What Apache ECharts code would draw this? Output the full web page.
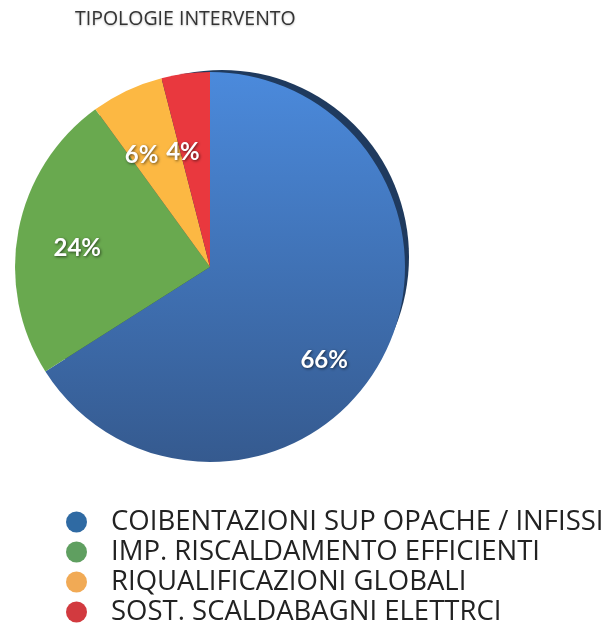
<!DOCTYPE html>
<html>
<head>
<meta charset="utf-8">
<script src="https://cdn.jsdelivr.net/npm/echarts@6/dist/echarts.min.js"></script>
<style>
  html, body { margin: 0; padding: 0; background: #fff; }
  #chart { width: 605px; height: 632px; }
</style>
</head>
<body>
<div id="chart"></div>
<script>
const categories = [
  'COIBENTAZIONI SUP OPACHE / INFISSI',
  'IMP. RISCALDAMENTO EFFICIENTI',
  'RIQUALIFICAZIONI GLOBALI',
  'SOST. SCALDABAGNI ELETTRCI'
];
const values = [66, 24, 6, 4];

const sliceColors = [
  new echarts.graphic.LinearGradient(0, 0, 0, 1, [
    { offset: 0, color: '#4b8adc' },
    { offset: 1, color: '#355a8f' }
  ]),
  '#69a94f',
  '#fcb843',
  '#e9383e'
];
const legendColors = ['#2f6aa3', '#5f9f60', '#f1aa55', '#d23a3f'];
// small nudges so the percentages sit where the original put them
const labelNudge = [[2, 32], [-7, 5], [-14, 4], [-11, 12]];

const chart = echarts.init(document.getElementById('chart'));

const center = [210, 267];
const radius = 195;

const option = {
  animation: false,
  title: {
    text: 'TIPOLOGIE INTERVENTO',
    left: 75,
    top: 9,
    padding: 0,
    textStyle: {
      fontFamily: 'Open Sans',
      fontWeight: 'normal',
      fontSize: 19.5,
      color: '#333',
      textShadowColor: 'rgba(0,0,0,0.25)',
      textShadowBlur: 2,
      textShadowOffsetY: 1
    }
  },
  legend: {
    orient: 'vertical',
    left: 66,
    top: 508,
    padding: 0,
    icon: 'circle',
    itemWidth: 21,
    itemHeight: 21,
    itemGap: 2,
    selectedMode: false,
    textStyle: {
      fontFamily: 'Open Sans',
      fontSize: 27.5,
      color: '#222',
      padding: [0, 0, 0, 19]
    },
    data: categories.map((name, i) => ({
      name: name,
      itemStyle: { color: legendColors[i] }
    }))
  },
  series: [
    {
      // dark edge on the upper right of the pie
      type: 'pie',
      silent: true,
      center: [center[0] + 12, center[1] - 10],
      radius: radius - 8,
      label: { show: false },
      labelLine: { show: false },
      itemStyle: { color: '#1f3a5e' },
      data: [{ name: 'edge', value: 1 }]
    },
    {
      type: 'pie',
      silent: true,
      center: center,
      radius: radius,
      startAngle: 90,
      label: { show: false },
      labelLine: { show: false },
      data: categories.map((name, i) => ({
        name: name,
        value: values[i],
        itemStyle: { color: sliceColors[i] }
      }))
    },
    {
      // transparent pie used only to place the percentage labels
      type: 'pie',
      silent: true,
      center: center,
      radius: 250,
      startAngle: 90,
      avoidLabelOverlap: false,
      itemStyle: { color: 'rgba(0,0,0,0)' },
      labelLine: { show: false },
      label: {
        show: true,
        position: 'inside',
        formatter: '{c}%',
        fontFamily: 'Lato',
        fontWeight: 'bold',
        fontSize: 24,
        color: '#fff',
        textShadowColor: 'rgba(0,0,0,0.6)',
        textShadowBlur: 3,
        textShadowOffsetX: 1,
        textShadowOffsetY: 1
      },
      labelLayout: function (params) {
        const n = labelNudge[params.dataIndex];
        return { dx: n[0], dy: n[1] };
      },
      data: categories.map((name, i) => ({ name: name, value: values[i] }))
    }
  ]
};

chart.setOption(option);
</script>
</body>
</html>
